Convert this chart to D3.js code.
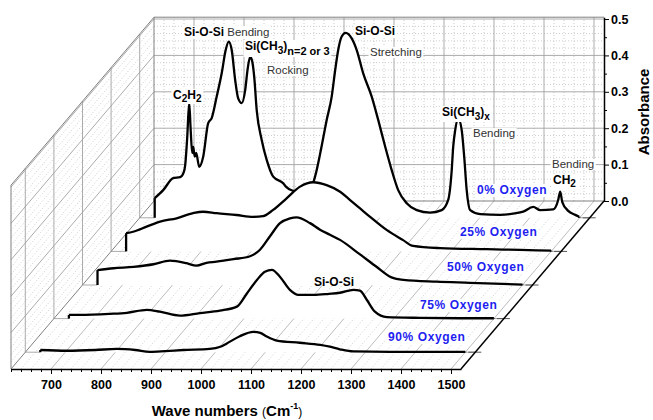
<!DOCTYPE html>
<html><head><meta charset="utf-8">
<script src="https://cdn.jsdelivr.net/npm/d3@7"></script>
<style>
html,body{margin:0;padding:0;background:#fff;}
svg{display:block;font-family:"Liberation Sans",Arial,sans-serif;}
</style></head>
<body><svg id="chart" width="653" height="420"></svg>
<script>
// ---------------- DATA ----------------
const seriesNames = ["0% Oxygen", "25% Oxygen", "50% Oxygen", "75% Oxygen", "90% Oxygen"];

const wn0 = [650,667,687,701,708,711,715,719,722,725,727,730,733,739,747,757,764,774,784,792,798,804,811,817,824,831,836,841,845,849,854,864,874,887,907,913,925,945,962,972,981,994,1004,1011,1017,1024,1032,1044,1054,1067,1084,1097,1111,1124,1137,1154,1174,1201,1224,1237,1244,1247,1251,1257,1264,1269,1274,1281,1301,1341,1370,1387,1407,1421,1447,1457,1461,1465,1477,1491,1499];
const abs0 = [0.054,0.076,0.109,0.112,0.125,0.145,0.22,0.316,0.24,0.178,0.195,0.168,0.178,0.14,0.168,0.26,0.274,0.333,0.397,0.461,0.484,0.461,0.378,0.328,0.315,0.351,0.41,0.443,0.43,0.388,0.296,0.214,0.159,0.113,0.095,0.085,0.075,0.07,0.08,0.12,0.177,0.269,0.333,0.406,0.461,0.498,0.508,0.493,0.461,0.397,0.333,0.269,0.195,0.131,0.076,0.040,0.021,0.014,0.021,0.049,0.13,0.195,0.241,0.273,0.241,0.168,0.076,0.021,0.010,0.008,0.012,0.017,0.030,0.021,0.023,0.049,0.072,0.044,0.019,0.008,0.003];

const wn25 = [650,664,691,718,751,784,804,831,871,904,924,944,971,998,1024,1051,1078,1098,1118,1138,1171,1204,1224,1278,1371,1438,1500];
const abs25 = [0.050,0.054,0.068,0.082,0.091,0.105,0.109,0.105,0.100,0.095,0.097,0.114,0.146,0.178,0.190,0.182,0.164,0.141,0.118,0.095,0.059,0.031,0.015,0.009,0.006,0.004,0.002];

const wn50 = [650,682,722,762,795,828,848,868,888,922,955,975,995,1015,1035,1048,1075,1095,1115,1135,1175,1208,1238,1262,1328,1395,1500];
const abs50 = [0.041,0.046,0.050,0.057,0.067,0.060,0.053,0.061,0.064,0.071,0.079,0.097,0.134,0.170,0.183,0.186,0.170,0.152,0.138,0.124,0.084,0.050,0.021,0.014,0.009,0.006,0.001];

const wn75 = [650,672,732,766,806,832,872,912,952,986,1006,1026,1042,1056,1072,1092,1109,1139,1170,1192,1219,1232,1246,1262,1286,1352,1432,1500];
const abs75 = [0.010,0.010,0.013,0.016,0.024,0.019,0.008,0.015,0.022,0.033,0.069,0.106,0.129,0.134,0.115,0.079,0.065,0.065,0.068,0.071,0.079,0.077,0.051,0.019,0.004,0.002,0.001,0.001];

const wn90 = [650,703,760,803,840,869,900,936,989,1010,1023,1049,1076,1090,1103,1123,1169,1210,1229,1249,1276,1376,1436,1500];
const abs90 = [0.006,0.004,0.006,0.009,0.006,0.001,0.003,0.006,0.009,0.015,0.024,0.044,0.056,0.053,0.043,0.032,0.026,0.020,0.015,0.008,0.002,0.001,0.001,0.001];

const xTickMajor = [700,800,900,1000,1100,1200,1300,1400,1500];
const yTickMajor = [0.0,0.1,0.2,0.3,0.4,0.5];

// ---------------- GEOMETRY ----------------
const svg = d3.select("#chart");
const X0 = 11, Y0 = 369, DX = 143, DY = 168;
const wMin = 620, wMax = 1520, aMax = 0.505;
const xS = d3.scaleLinear().domain([wMin, wMax]).range([0, 450]);
const aS = d3.scaleLinear().domain([0, aMax]).range([0, 183.8]);
const zS = d3.scalePoint().domain(seriesNames).range([0.9, 0.1]);
function P(w, a, z){ return [X0 + xS(w) + DX*z, Y0 - DY*z - aS(a)]; }

const series = [
  {name: seriesNames[0], w: wn0, a: abs0},
  {name: seriesNames[1], w: wn25, a: abs25},
  {name: seriesNames[2], w: wn50, a: abs50},
  {name: seriesNames[3], w: wn75, a: abs75},
  {name: seriesNames[4], w: wn90, a: abs90}
];

const g = svg.append("g");
function seg(p1, p2, color, width, dash){
  const l = g.append("line").attr("x1",p1[0]).attr("y1",p1[1]).attr("x2",p2[0]).attr("y2",p2[1])
    .attr("stroke",color).attr("stroke-width",width||1);
  if(dash) l.attr("stroke-dasharray",dash);
  return l;
}
const minorCol = "#c0c0c0", majorCol = "#a2a2a2", dotted = "1,2";
const wMinor = d3.range(640, 1520, 20).filter(w => w % 100 !== 0);
const aMinor = d3.range(1, 26).map(i => +(i*0.02).toFixed(2)).filter(a => Math.round(a*100) % 10 !== 0 && a < aMax);
const aMajor = [0.1,0.2,0.3,0.4,0.5];

// Back wall (z = 1)
wMinor.forEach(w => seg(P(w,0,1), P(w,aMax,1), minorCol, 0.8, dotted));
aMinor.forEach(a => seg(P(wMin,a,1), P(wMax,a,1), minorCol, 0.8, dotted));
xTickMajor.forEach(w => seg(P(w,0,1), P(w,aMax,1), majorCol, 0.9));
aMajor.forEach(a => seg(P(wMin,a,1), P(wMax,a,1), majorCol, 0.9));

// Left wall (w = wMin)
aMinor.forEach(a => seg(P(wMin,a,0), P(wMin,a,1), minorCol, 0.8, dotted));
aMajor.forEach(a => seg(P(wMin,a,0), P(wMin,a,1), majorCol, 0.9));
seriesNames.forEach(n => seg(P(wMin,0,zS(n)), P(wMin,aMax,zS(n)), majorCol, 0.9));

// Floor (a = 0)
wMinor.forEach(w => seg(P(w,0,0), P(w,0,1), minorCol, 0.8, dotted));
xTickMajor.forEach(w => seg(P(w,0,0), P(w,0,1), "#b4b4b4", 0.9));
seriesNames.forEach(n => {
  const z = zS(n);
  seg(P(wMin,0,z), P(650,0,z), majorCol, 0.9);
  seg(P(1500,0,z), P(wMax,0,z), majorCol, 0.9);
  const e = P(wMax,0,z);
  seg([e[0]-7,e[1]], [e[0]+6,e[1]], "#555", 1);
});

// Frame
const frameCol = "#808080";
seg(P(wMin,0,0), P(wMin,aMax,0), frameCol, 1);
seg(P(wMin,aMax,0), P(wMin,aMax,1), frameCol, 1);
seg(P(wMin,aMax,1), P(wMax,aMax,1), frameCol, 1);
seg(P(wMin,0,1), P(wMin,aMax,1), frameCol, 1);
seg(P(wMin,0,0), P(wMin,0,1), frameCol, 1);
seg(P(wMin,0,1), P(wMax,0,1), frameCol, 1);
seg(P(wMax,0,0), P(wMax,0,1), "#000", 1.5);

// Curves (back to front)
series.forEach(s => {
  const z = zS(s.name);
  const pts = s.w.map((w,i) => ({w, a: s.a[i]}));
  const area = d3.area().x(d => P(d.w,d.a,z)[0]).y1(d => P(d.w,d.a,z)[1]).y0(d => P(d.w,0,z)[1]).curve(d3.curveMonotoneX);
  const line = d3.line().x(d => P(d.w,d.a,z)[0]).y(d => P(d.w,d.a,z)[1]).curve(d3.curveMonotoneX);
  g.append("path").attr("d", area(pts)).attr("fill","#fff").attr("stroke","none");
  g.append("path").attr("d", line(pts)).attr("fill","none").attr("stroke","#000").attr("stroke-width",2.3).attr("stroke-linejoin","round");
  const f = pts[0], l = pts[pts.length-1];
  seg(P(f.w,0,z), P(f.w,f.a,z), "#000", 2.3);
  seg(P(l.w,0,z), P(l.w,l.a,z), "#000", 2.3);
});

// Bottom axis
const xFront = d3.scaleLinear().domain([wMin,wMax]).range([X0, X0+450]);
const bAxis = svg.append("g").attr("transform",`translate(0,${Y0})`)
  .call(d3.axisBottom(xFront).tickValues(xTickMajor).tickFormat(d3.format("d")).tickSize(5).tickSizeOuter(0).tickPadding(6));
svg.append("g").attr("transform",`translate(0,${Y0})`)
  .call(d3.axisBottom(xFront).tickValues(wMinor.concat([620])).tickFormat("").tickSize(3).tickSizeOuter(0))
  .select(".domain").remove();
bAxis.select(".domain").attr("stroke","#000").attr("stroke-width",1.5);
bAxis.selectAll("text").attr("font-size",12.5).attr("font-weight","bold").attr("fill","#000").attr("font-family","Liberation Sans, Arial");

// Right axis (absorbance at back wall)
const yBack = d3.scaleLinear().domain([0,aMax]).range([P(wMax,0,1)[1], P(wMax,aMax,1)[1]]);
const xR = P(wMax,0,1)[0];
const rAxis = svg.append("g").attr("transform",`translate(${xR},0)`)
  .call(d3.axisRight(yBack).tickValues(yTickMajor).tickFormat(d3.format(".1f")).tickSize(5).tickSizeOuter(0).tickPadding(2));
svg.append("g").attr("transform",`translate(${xR},0)`)
  .call(d3.axisRight(yBack).tickValues([0.05,0.15,0.25,0.35,0.45]).tickFormat("").tickSize(3).tickSizeOuter(0))
  .select(".domain").remove();
rAxis.select(".domain").attr("stroke","#000").attr("stroke-width",1.5);
rAxis.selectAll("text").attr("font-size",12.5).attr("font-weight","bold").attr("fill","#000").attr("font-family","Liberation Sans, Arial");

// Axis titles
svg.append("text").attr("transform","translate(649,112) rotate(-90)").attr("text-anchor","middle")
  .attr("font-size",15).attr("font-weight","bold").text("Absorbance");
const xt = svg.append("text").attr("x",227).attr("y",416).attr("text-anchor","middle").attr("font-weight","bold").attr("font-size",15);
xt.append("tspan").text("Wave numbers ");
xt.append("tspan").attr("font-size",12).attr("font-weight","normal").text("(");
xt.append("tspan").text("Cm");
xt.append("tspan").attr("font-size",9).attr("dy",-7).text("-1");
xt.append("tspan").attr("font-size",12).attr("font-weight","normal").attr("dy",7).text(")");

// Annotations
function label(x, y, parts, opts){
  opts = opts || {};
  const grp = svg.append("g");
  const t = grp.append("text").attr("x",x).attr("y",y).attr("font-size",opts.size||12)
    .attr("font-weight",opts.weight||"bold").attr("fill",opts.color||"#000");
  if(opts.ls) t.attr("letter-spacing",opts.ls);
  parts.forEach(p => {
    const ts = t.append("tspan").text(p.t);
    if(p.size) ts.attr("font-size",p.size);
    if(p.dy) ts.attr("dy",p.dy);
    if(p.weight) ts.attr("font-weight",p.weight);
    if(p.color) ts.attr("fill",p.color);
  });
  if(opts.box !== false){
    const b = t.node().getBBox();
    grp.insert("rect","text").attr("x",b.x-1.5).attr("y",b.y+1).attr("width",b.width+3).attr("height",b.height-1).attr("fill","#fff");
  }
}
label(173, 99, [{t:"C"},{t:"2",size:10,dy:3},{t:"H",dy:-3},{t:"2",size:10,dy:3}]);
label(184, 36, [{t:"Si-O-Si"},{t:" Bending",weight:"normal",size:11.5,color:"#333"}]);
label(245, 50, [{t:"Si(CH"},{t:"3",size:10,dy:4},{t:")",dy:-4},{t:"n=2 or 3",size:11,dy:5}]);
label(267, 74, [{t:"Rocking"}], {weight:"normal",size:11.5,color:"#333"});
label(355, 35, [{t:"Si-O-Si"}]);
label(370, 56, [{t:"Stretching"}], {weight:"normal",size:11.5,color:"#333"});
label(442, 116, [{t:"Si(CH"},{t:"3",size:10,dy:4},{t:")",dy:-4},{t:"x",size:10,dy:4}]);
label(473, 137, [{t:"Bending"}], {weight:"normal",size:11.5,color:"#333"});
label(552, 168, [{t:"Bending"}], {weight:"normal",size:11.5,color:"#333"});
label(553, 184, [{t:"CH"},{t:"2",size:10,dy:3}]);
label(314, 286, [{t:"Si-O-Si"}], {box:false});

const oxPos = [[477,194],[460,236],[447,271],[420,309],[388,341]];
seriesNames.forEach((n,i) => label(oxPos[i][0], oxPos[i][1], [{t:n}], {color:"#1e1ef0", size:12, ls:0.6}));
</script></body></html>
